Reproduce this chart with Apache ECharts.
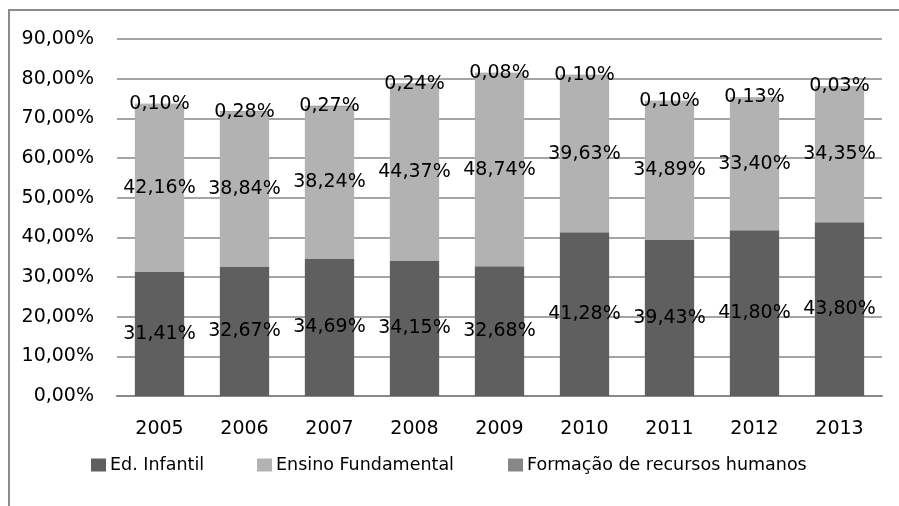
<!DOCTYPE html>
<html>
<head>
<meta charset="utf-8">
<script src="https://cdn.jsdelivr.net/npm/echarts@6/dist/echarts.min.js"></script>
<style>
html,body{margin:0;padding:0;background:#fff;}
#chart{width:899px;height:506px;}
</style>
</head>
<body>
<div id="chart"></div>
<script>
var categories = ['2005','2006','2007','2008','2009','2010','2011','2012','2013'];
var edInfantil = [31.41, 32.67, 34.69, 34.15, 32.68, 41.28, 39.43, 41.80, 43.80];
var ensinoFundamental = [42.16, 38.84, 38.24, 44.37, 48.74, 39.63, 34.89, 33.40, 34.35];
var formacaoRH = [0.10, 0.28, 0.27, 0.24, 0.08, 0.10, 0.10, 0.13, 0.03];
var seriesNames = ['Ed. Infantil', 'Ensino Fundamental', 'Formação de recursos humanos'];
var yMin = 0, yMax = 90, yStep = 10;

function pct(v) { return v.toFixed(2).replace('.', ',') + '%'; }

var FONT = 'DejaVu Sans';
var colors = ['#5f5f5f', '#b2b2b2', '#878787'];
var labelStyle = {
  show: true, position: 'inside', color: '#000', fontFamily: FONT, fontSize: 19,
  formatter: function (p) { return pct(p.value); }
};

var chart = echarts.init(document.getElementById('chart'), null, {renderer: 'canvas'});
var legendBase = {
  top: 456, padding: 0, itemWidth: 15, itemHeight: 13, itemGap: 0,
  icon: 'rect', selectedMode: false,
  textStyle: {fontFamily: FONT, fontSize: 17.5, color: '#000', padding: [0, 0, 0, -1]}
};
chart.setOption({
  animation: false,
  backgroundColor: '#fff',
  color: colors,
  graphic: [{
    type: 'polyline', silent: true,
    shape: {points: [[9, 506], [9, 10], [899, 10]]},
    style: {stroke: '#8c8c8c', lineWidth: 2, fill: null}
  }],
  legend: [
    Object.assign({}, legendBase, {left: 91, data: [seriesNames[0]]}),
    Object.assign({}, legendBase, {left: 257, data: [seriesNames[1]]}),
    Object.assign({}, legendBase, {left: 508, data: [seriesNames[2]]})
  ],
  grid: {left: 117, right: 17, top: 39, bottom: 110, containLabel: false},
  xAxis: {
    type: 'category', data: categories,
    axisLine: {show: true, lineStyle: {color: '#878787', width: 2}},
    axisTick: {show: false},
    axisLabel: {color: '#000', fontFamily: FONT, fontSize: 19, margin: 24}
  },
  yAxis: {
    type: 'value', min: yMin, max: yMax, interval: yStep,
    axisLine: {show: false}, axisTick: {show: false},
    splitLine: {show: true, lineStyle: {color: '#878787', width: 1.5}},
    axisLabel: {color: '#000', fontFamily: FONT, fontSize: 19, margin: 23,
      formatter: function (v) { return pct(v); }}
  },
  series: [
    {name: seriesNames[0], type: 'bar', stack: 'total', data: edInfantil,
     barWidth: '58%', label: labelStyle, itemStyle: {color: colors[0]}},
    {name: seriesNames[1], type: 'bar', stack: 'total', data: ensinoFundamental,
     barWidth: '58%', label: labelStyle, itemStyle: {color: colors[1]}},
    {name: seriesNames[2], type: 'bar', stack: 'total', data: formacaoRH,
     barWidth: '58%', label: labelStyle, itemStyle: {color: colors[2]}}
  ]
});
</script>
</body>
</html>
